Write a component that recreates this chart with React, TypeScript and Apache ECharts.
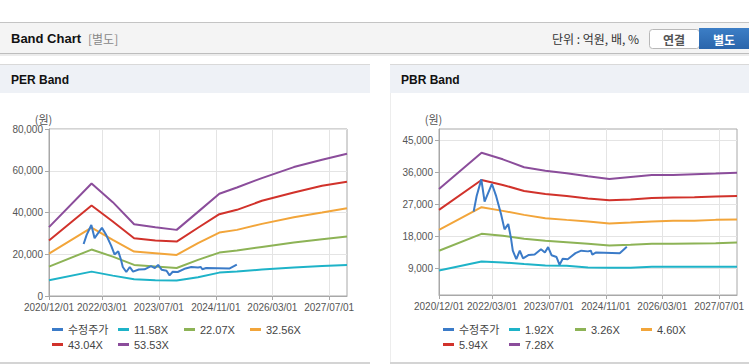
import React, { useEffect, useRef } from 'react';
import * as echarts from 'echarts';

const FONT = '"Liberation Sans", Arial, "Noto Sans CJK KR", sans-serif';
const KFONT = '"Noto Sans CJK KR", "Liberation Sans", sans-serif';

// ---- axis ticks ----
const X_MIN = '2020/12/01';
const X_MAX = '2027/12/01';
const X_TICKS = ['2020/12/01', '2022/03/01', '2023/07/01', '2024/11/01', '2026/03/01', '2027/07/01'];
const PER_Y_TICKS = [0, 20000, 40000, 60000, 80000];
const PBR_Y_TICKS = [9000, 18000, 27000, 36000, 45000];

// ---- adjusted price (shared by both charts) ----
const PRICE_DATES = [
  '2021/09/24', '2021/10/20', '2021/11/29', '2021/12/27', '2022/02/28', '2022/04/06',
  '2022/05/18', '2022/06/16', '2022/07/18', '2022/08/10', '2022/08/26', '2022/09/25',
  '2022/10/25', '2022/11/22', '2023/01/10', '2023/03/01', '2023/04/25', '2023/05/28',
  '2023/06/25', '2023/07/25', '2023/09/05', '2023/10/01', '2023/10/28', '2023/12/10',
  '2024/02/15', '2024/04/04', '2024/06/01', '2024/06/25', '2024/07/08', '2024/08/10',
  '2025/02/28', '2025/04/30',
];
const PRICE = [
  24900, 29300, 34000, 27700, 32700, 29200,
  24100, 19900, 21400, 17500, 13900, 11500,
  13900, 11700, 12700, 12800, 14300, 13400,
  14900, 12600, 12100, 9900, 11600, 11500,
  13200, 13900, 13700, 13900, 12800, 13400,
  13200, 15000,
];

// ---- PER band ----
const PER_DATES = [
  '2020/12/01', '2021/12/01', '2022/06/01', '2022/12/01', '2023/06/01', '2023/12/01',
  '2024/06/01', '2024/12/01', '2025/05/01', '2025/12/01', '2026/09/01', '2027/05/01', '2027/12/01',
];
const PER_NAMES = ['11.58X', '22.07X', '32.56X', '43.04X', '53.53X'];
const PER_1158 = [7520, 11680, 9760, 8000, 7600, 7400, 9000, 11200, 11680, 12640, 13600, 14400, 14880];
const PER_2207 = [14080, 22240, 18880, 14880, 14080, 13440, 17280, 20800, 21760, 23520, 25600, 27200, 28480];
const PER_3256 = [20320, 32800, 26880, 21280, 20480, 19680, 25280, 30400, 31680, 34560, 37760, 40000, 42080];
const PER_4304 = [26560, 43360, 35680, 27680, 26560, 26080, 32700, 39200, 41280, 45600, 49600, 52800, 54720];
const PER_5353 = [33000, 53920, 44960, 34400, 32960, 31680, 40300, 48960, 52000, 56480, 61760, 65280, 68160];

// ---- PBR band ----
const PBR_DATES = [
  '2020/12/01', '2021/12/01', '2022/06/01', '2022/12/01', '2023/06/01', '2023/12/01', '2024/06/01',
  '2024/12/01', '2025/06/01', '2025/12/01', '2026/06/01', '2026/12/01', '2027/06/01', '2027/12/01',
];
const PBR_NAMES = ['1.92X', '3.26X', '4.60X', '5.94X', '7.28X'];
const PBR_192 = [8330, 10870, 10580, 10120, 9740, 9650, 9180, 9080, 9080, 9370, 9370, 9370, 9370, 9370];
const PBR_326 = [13870, 18650, 18080, 17240, 16680, 16300, 15830, 15370, 15550, 15830, 15830, 15930, 16020, 16210];
const PBR_460 = [19770, 26150, 25120, 23990, 23050, 22580, 22120, 21550, 21830, 22120, 22300, 22300, 22580, 22680];
const PBR_594 = [25400, 33830, 32430, 30740, 29900, 29330, 28630, 28120, 28300, 28770, 28870, 28960, 29150, 29330];
const PBR_728 = [31300, 41520, 39650, 37400, 36460, 35710, 34900, 34120, 34680, 35240, 35240, 35430, 35620, 35900];

const PRICE_NAME = '수정주가';
const COLORS = ['#3b7bc8', '#1eb3c8', '#8db356', '#f2a53a', '#d1322b', '#8b4d9b'];

const toTs = (s: string) => {
  const [y, m, d] = s.split('/').map(Number);
  return new Date(y, m - 1, d).getTime();
};
const pad = (n: number) => (n < 10 ? '0' + n : '' + n);
const fmtDate = (v: number) => {
  const d = new Date(v);
  return `${d.getFullYear()}/${pad(d.getMonth() + 1)}/${pad(d.getDate())}`;
};
const fmtNum = (v: number) => Math.round(v).toLocaleString('en-US');
const pairs = (dates: string[], vals: number[]) => dates.map((d, i) => [toTs(d), vals[i]]);

function buildOption() {
  const xTicks = X_TICKS.map(toTs);
  const grids = [
    { left: 49, top: 129, width: 298, height: 167 },
    { left: 439, top: 129, width: 298, height: 166 },
  ];
  const xAxis = [0, 1].map((i) => ({
    type: 'value',
    gridIndex: i,
    min: toTs(X_MIN),
    max: toTs(X_MAX),
    axisLine: { show: true, lineStyle: { color: '#a8a8a8' } },
    axisTick: { show: true, length: 4, customValues: xTicks, lineStyle: { color: '#a8a8a8' } },
    axisLabel: {
      customValues: xTicks,
      formatter: (v: number) => fmtDate(v),
      fontSize: 10,
      color: '#555',
      margin: 6,
      fontFamily: FONT,
      hideOverlap: false,
    },
    splitLine: { show: true, lineStyle: { color: '#e4e4e4', width: 1 } },
  }));
  const yCommon = {
    type: 'value',
    name: '(원)',
    nameLocation: 'end',
    nameGap: 5,
    nameTextStyle: { color: '#555', fontSize: 11, fontFamily: KFONT, align: 'center', padding: [0, 11, 0, 0] },
    axisLine: { show: true, lineStyle: { color: '#a8a8a8' } },
    axisTick: { show: true, length: 4, lineStyle: { color: '#a8a8a8' } },
    splitLine: { show: true, lineStyle: { color: '#e4e4e4', width: 1 } },
  };
  const yAxis = [
    {
      ...yCommon,
      gridIndex: 0,
      min: PER_Y_TICKS[0],
      max: PER_Y_TICKS[PER_Y_TICKS.length - 1],
      interval: 20000,
      axisLabel: { formatter: (v: number) => fmtNum(v), fontSize: 10, color: '#555', margin: 6, fontFamily: FONT },
    },
    {
      ...yCommon,
      gridIndex: 1,
      min: 1400,
      max: 48200,
      axisTick: { show: true, length: 4, customValues: PBR_Y_TICKS, lineStyle: { color: '#a8a8a8' } },
      axisLabel: {
        customValues: PBR_Y_TICKS,
        formatter: (v: number) => fmtNum(v),
        fontSize: 10,
        color: '#555',
        margin: 6,
        fontFamily: FONT,
      },
    },
  ];

  const line = (name: string, idx: number, data: any[], color: string) => ({
    type: 'line',
    name,
    xAxisIndex: idx,
    yAxisIndex: idx,
    data,
    color,
    symbol: 'none',
    showSymbol: false,
    lineStyle: { color, width: 2 },
    itemStyle: { color },
    silent: true,
  });

  const perBands = [PER_1158, PER_2207, PER_3256, PER_4304, PER_5353];
  const pbrBands = [PBR_192, PBR_326, PBR_460, PBR_594, PBR_728];
  const series: any[] = [];
  perBands.forEach((vals, k) => series.push(line(PER_NAMES[k], 0, pairs(PER_DATES, vals), COLORS[k + 1])));
  series.push(line(PRICE_NAME, 0, pairs(PRICE_DATES, PRICE), COLORS[0]));
  pbrBands.forEach((vals, k) => series.push(line(PBR_NAMES[k], 1, pairs(PBR_DATES, vals), COLORS[k + 1])));
  series.push(line(PRICE_NAME, 1, pairs(PRICE_DATES, PRICE), COLORS[0]));

  const legendCommon = {
    orient: 'horizontal',
    top: 322,
    width: 265,
    padding: 0,
    itemGap: 0,
    itemWidth: 11,
    itemHeight: 3,
    icon: 'rect',
    selectedMode: false,
    textStyle: { fontSize: 11, color: '#444', fontFamily: FONT, width: 50, lineHeight: 15 },
  };
  const legend = [
    { ...legendCommon, left: 52, data: [PRICE_NAME, ...PER_NAMES] },
    { ...legendCommon, left: 443, data: [PRICE_NAME, ...PBR_NAMES] },
  ];

  const graphic: any[] = [
    // header bar
    { type: 'rect', shape: { x: 0, y: 22, width: 749, height: 1 }, style: { fill: '#c4c4c4' }, z: -10 },
    { type: 'rect', shape: { x: 0, y: 23, width: 749, height: 30 }, style: { fill: '#f4f4f4' }, z: -10 },
    { type: 'rect', shape: { x: 0, y: 53, width: 749, height: 1 }, style: { fill: '#bdbdbd' }, z: -10 },
    { type: 'rect', shape: { x: 0, y: 54, width: 749, height: 2 }, style: { fill: '#ececec' }, z: -10 },
    { type: 'text', x: 11, y: 38, style: { text: 'Band Chart', font: `bold 13px ${FONT}`, fill: '#111', verticalAlign: 'middle' }, z: 10 },
    { type: 'text', x: 88, y: 38, style: { text: '[별도]', font: `12px ${KFONT}`, fill: '#888', verticalAlign: 'middle' }, z: 10 },
    { type: 'text', x: 552, y: 38, style: { text: '단위 : 억원, 배, %', font: `12px ${KFONT}`, fill: '#333', verticalAlign: 'middle' }, z: 10 },
    { type: 'rect', shape: { x: 649.5, y: 29.5, width: 50, height: 19, r: 3 }, style: { fill: '#fff', stroke: '#b8b8b8', lineWidth: 1 }, z: 5 },
    { type: 'text', x: 674, y: 39, style: { text: '연결', font: `bold 12px ${KFONT}`, fill: '#555', align: 'center', verticalAlign: 'middle' }, z: 10 },
    {
      type: 'rect',
      shape: { x: 699, y: 28, width: 50, height: 21 },
      style: {
        fill: new echarts.graphic.LinearGradient(0, 0, 0, 1, [
          { offset: 0, color: '#3c7ec6' },
          { offset: 1, color: '#2a65ab' },
        ]),
      },
      z: 5,
    },
    { type: 'text', x: 724, y: 39, style: { text: '별도', font: `bold 12px ${KFONT}`, fill: '#fff', align: 'center', verticalAlign: 'middle' }, z: 10 },
    // PER panel
    { type: 'rect', shape: { x: 0, y: 64, width: 370, height: 1 }, style: { fill: '#d9d9d9' }, z: -10 },
    { type: 'rect', shape: { x: 0, y: 65, width: 370, height: 28 }, style: { fill: '#eef1f6' }, z: -10 },
    { type: 'rect', shape: { x: 0, y: 362, width: 370, height: 2 }, style: { fill: '#d4d4d4' }, z: -10 },
    { type: 'text', x: 11, y: 80, style: { text: 'PER Band', font: `bold 12px ${FONT}`, fill: '#111', verticalAlign: 'middle' }, z: 10 },
    // PBR panel
    { type: 'rect', shape: { x: 390, y: 64, width: 359, height: 1 }, style: { fill: '#d9d9d9' }, z: -10 },
    { type: 'rect', shape: { x: 390, y: 65, width: 359, height: 28 }, style: { fill: '#eef1f6' }, z: -10 },
    { type: 'rect', shape: { x: 390, y: 93, width: 1, height: 269 }, style: { fill: '#ededed' }, z: -10 },
    { type: 'rect', shape: { x: 390, y: 362, width: 359, height: 2 }, style: { fill: '#d4d4d4' }, z: -10 },
    { type: 'text', x: 401, y: 80, style: { text: 'PBR Band', font: `bold 12px ${FONT}`, fill: '#111', verticalAlign: 'middle' }, z: 10 },
  ];

  return {
    animation: false,
    backgroundColor: '#ffffff',
    textStyle: { fontFamily: FONT },
    graphic,
    grid: grids.map((g) => ({ ...g, show: true, borderColor: '#a8a8a8', borderWidth: 1, backgroundColor: '#fff', containLabel: false })),
    xAxis,
    yAxis,
    legend,
    series,
  };
}

export default function App() {
  const ref = useRef<HTMLDivElement>(null);
  useEffect(() => {
    if (!ref.current) return;
    const chart = echarts.init(ref.current, undefined, { renderer: 'svg' });
    chart.setOption(buildOption() as any);
    return () => chart.dispose();
  }, []);
  return (
    <div
      ref={ref}
      style={{ position: 'absolute', left: 0, top: 0, width: 749, height: 364, background: '#fff' }}
    />
  );
}
